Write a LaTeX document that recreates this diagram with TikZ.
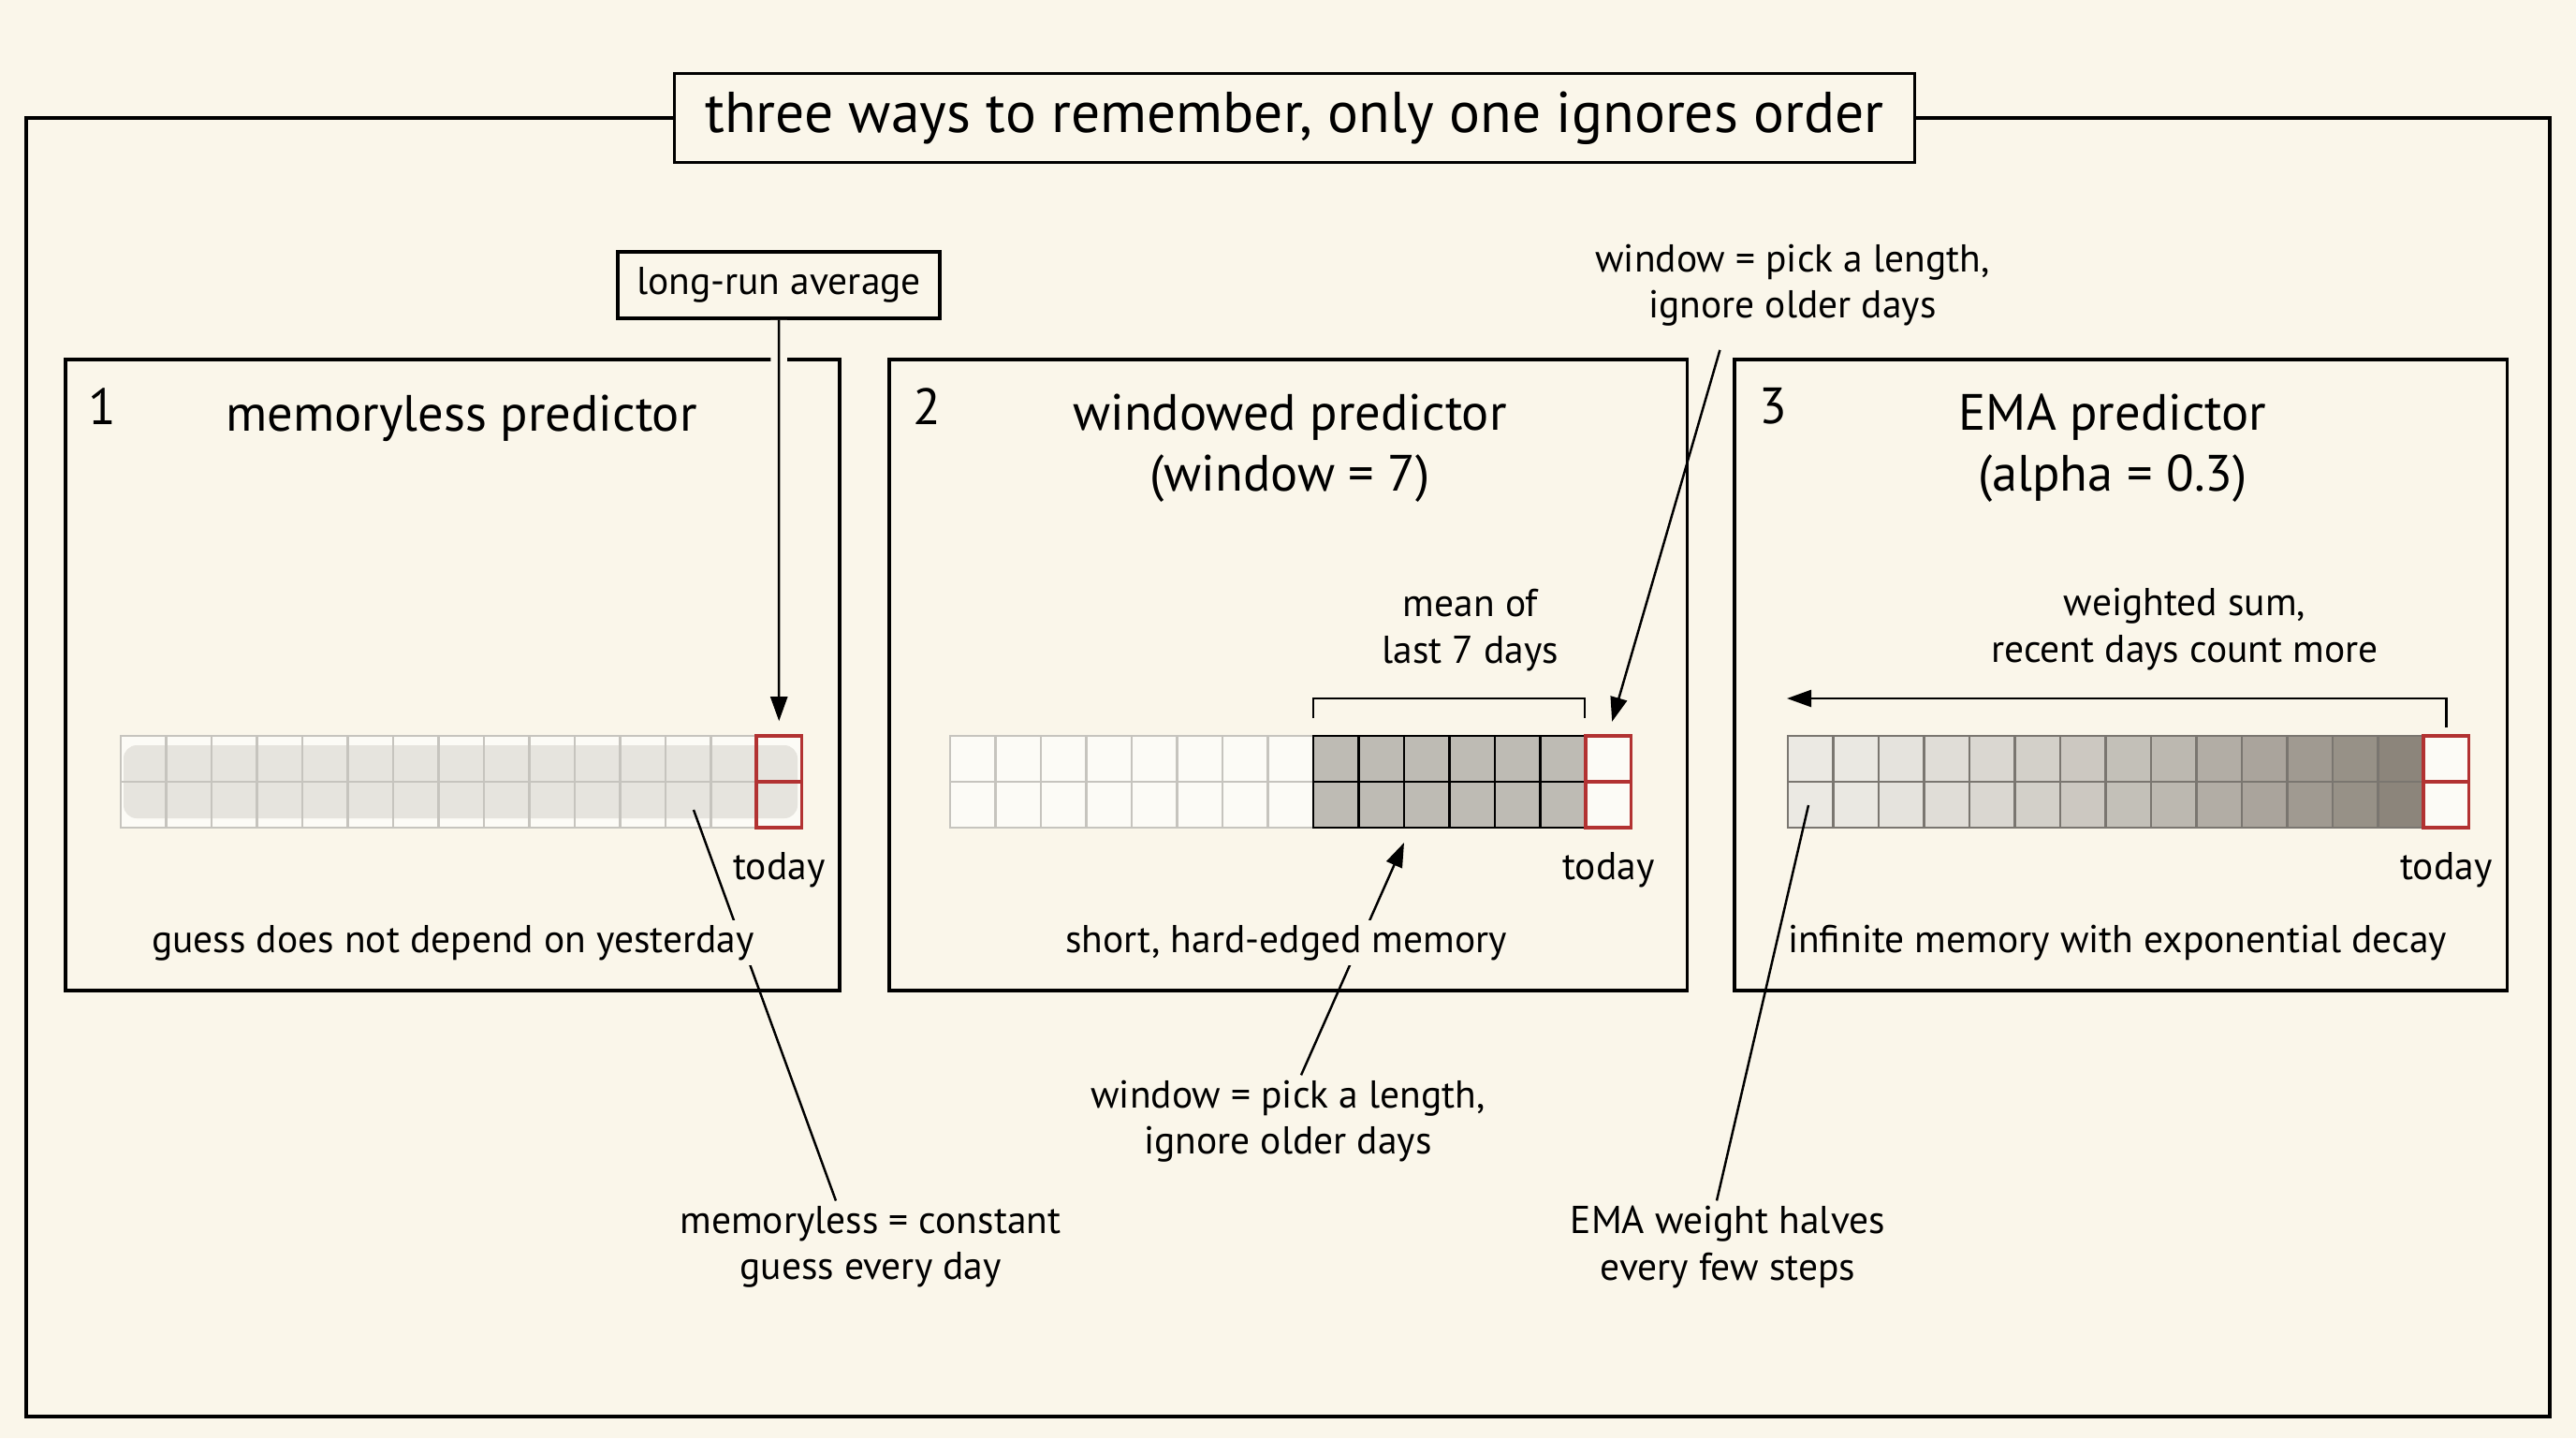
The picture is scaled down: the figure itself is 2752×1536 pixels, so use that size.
\documentclass[tikz,border=0pt]{standalone}
\usepackage{fontspec}
\setmainfont{PT Sans}
\usepackage{tikz}
\usetikzlibrary{calc, positioning}
\usetikzlibrary{arrows.meta}
\pgfdeclarelayer{front}
\pgfsetlayers{main,front}
\definecolor{paper}{RGB}{250,246,234}
\definecolor{cellwhite}{RGB}{252,251,246}
\definecolor{cellline}{RGB}{198,196,190}
\definecolor{wash}{RGB}{230,228,222}
\definecolor{winfill}{RGB}{190,187,180}
\definecolor{emadark}{RGB}{110,102,90}
\definecolor{emaline}{RGB}{122,118,112}
\definecolor{todayred}{RGB}{178,50,50}
\def\lw{1pt}
\def\cw{48.5}
\def\ch{49}
\def\headsize{\fontsize{15.5}{18.5}\selectfont}
\def\notesize{\fontsize{11.8}{14}\selectfont}
\tikzset{
    boxline/.style = {draw, line width=\lw},
    panel/.style = {boxline, minimum height=6.74cm, inner sep=0pt},
    headtext/.style = {font=\headsize, align=center},
    note/.style = {font=\notesize, align=center, fill=paper, inner sep=1.5pt},
    cellgrid/.style = {draw=cellline, line width=0.6pt},
    todaycell/.style = {draw=todayred, line width=1pt,
        minimum width=0.485cm, minimum height=0.98cm, inner sep=0pt},
    thinline/.style = {line width=0.7pt},
    pointer/.style = {thinline, -{Triangle[width=1.8mm,length=2.6mm]}},
    halo/.style = {draw=paper, line width=5pt}
}

\begin{document}
\begin{tikzpicture}[x=0.01cm, y=-0.01cm, every node/.style={font=\notesize}]
    \fill[paper] (0,0) rectangle (2752,1536);
    \useasboundingbox (0,0) rectangle (2752,1536);
    \draw[boxline] (28,126) rectangle (2724,1513);
    \node[boxline, fill=paper, minimum width=13.24cm, minimum height=0.95cm,
        font=\fontsize{17.5}{20}\selectfont] (title) at (1383,126) {three ways to remember, only one ignores order};

    \node[panel, minimum width=8.27cm] (p1) at (483.5,721) {};
    \node[panel, minimum width=8.52cm] (p2) at (1376,721) {};
    \node[panel, minimum width=8.25cm] (p3) at (2265.5,721) {};

    \node[headtext] (n1) at (109,434) {1};
    \node[headtext] (n2) at (990,434) {2};
    \node[headtext] (n3) at (1894,434) {3};
    \node[headtext] (h1) at (493,447) {memoryless predictor};
    \node[headtext] (h2) at (1378,479) {windowed predictor\\(window = 7)};
    \node[headtext] (h3) at (2257,479) {EMA predictor\\(alpha = 0.3)};

    \fill[cellwhite] (129,786) rectangle ++(15*\cw,2*\ch);
    \fill[wash, rounded corners=4pt] (132,796) rectangle (852,874);
    \foreach \i in {0,...,13}
        \draw[cellgrid] ({129+\i*\cw},786) rectangle ++(\cw,\ch) ++(-\cw,0) rectangle ++(\cw,\ch);

    \fill[cellwhite] (1015,786) rectangle ++(15*\cw,2*\ch);
    \fill[winfill] ({1015+8*\cw},786) rectangle ++(6*\cw,2*\ch);
    \foreach \i in {0,...,7}
        \draw[cellgrid] ({1015+\i*\cw},786) rectangle ++(\cw,\ch) ++(-\cw,0) rectangle ++(\cw,\ch);
    \foreach \i in {8,...,13}
        \draw[line width=0.8pt] ({1015+\i*\cw},786) rectangle ++(\cw,\ch) ++(-\cw,0) rectangle ++(\cw,\ch);

    \fill[cellwhite] (1910,786) rectangle ++(15*\cw,2*\ch);
    \foreach \i in {0,...,13}{
        \pgfmathsetmacro\tone{int(12+67*(\i/13)^1.4)}
        \fill[emadark!\tone!cellwhite] ({1910+\i*\cw},786) rectangle ++(\cw,2*\ch);
        \draw[cellgrid, draw=emaline] ({1910+\i*\cw},786) rectangle ++(\cw,\ch) ++(-\cw,0) rectangle ++(\cw,\ch);
    }

    \node[todaycell] (t1) at ({129+14.5*\cw},835) {};
    \node[todaycell] (t2) at ({1015+14.5*\cw},835) {};
    \node[todaycell] (t3) at ({1910+14.5*\cw},835) {};
    \draw[todayred, line width=1pt] (t1.west) -- (t1.east);
    \draw[todayred, line width=1pt] (t2.west) -- (t2.east);
    \draw[todayred, line width=1pt] (t3.west) -- (t3.east);
    \node (d1) [below=0.12cm of t1] {today};
    \node (d2) [below=0.12cm of t2] {today};
    \node (d3) [below=0.12cm of t3] {today};

    \node[boxline, fill=paper, minimum width=3.44cm, minimum height=0.71cm] (avg) at (832,304.5) {long-run average};
    \begin{pgfonlayer}{front}
        \node[note] (guess) at (484,1007) {guess does not depend on yesterday};
        \node[note] (short) at (1374,1007) {short, hard-edged memory};
        \node[note] (infinite) at (2262,1007) {infinite memory with exponential decay};
        \node[note] (meanof) at (1571,673) {mean of\\last 7 days};
        \node[note] (wtop) at (1915,305) {window = pick a length,\\ignore older days};
        \node[note] (wbot) at (1376,1198) {window = pick a length,\\ignore older days};
        \node[note] (sum) at (2334,672) {weighted sum,\\recent days count more};
        \node[note] (memo) at (930,1332) {memoryless = constant\\guess every day};
        \node[note] (emahalf) at (1846,1332) {EMA weight halves\\every few steps};
    \end{pgfonlayer}

    \coordinate (p1old) at (741,865);
    \coordinate (winbot) at (1500,900);
    \coordinate (p3old) at (1932,860);
    \coordinate (sumend) at (1909,746);
    \draw[halo, shorten >=1cm] (avg) -- (t1);
    \draw[pointer, shorten >=0.14cm] (avg) -- (t1);
    \draw[pointer, shorten <=0.2cm, shorten >=0.14cm] ([xshift=-0.72cm]wtop.south) -- (t2.north);
    \draw[pointer] ([xshift=0.14cm]wbot.north) -- (winbot);
    \draw[thinline] ([xshift=-0.37cm]memo.north) -- (p1old);
    \draw[thinline] ([xshift=-0.12cm]emahalf.north) -- (p3old);
    \draw[pointer] ([yshift=0.07cm]t3.north) |- (sumend);
    \draw[thinline] (1403,767) |- (1548,746) -| (1693,767);
\end{tikzpicture}
\end{document}
